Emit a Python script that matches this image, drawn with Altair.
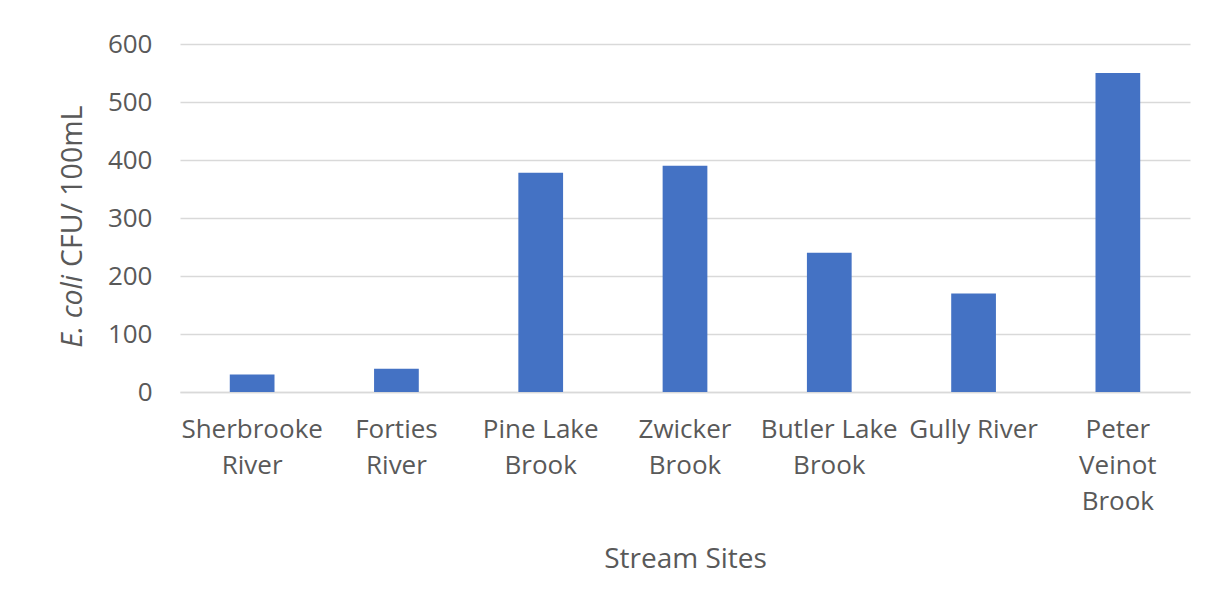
import altair as alt
import pandas as pd

categories = ["Sherbrooke River", "Forties River", "Pine Lake Brook", "Zwicker Brook",
              "Butler Lake Brook", "Gully River", "Peter Veinot Brook"]
values = [30, 40, 378, 390, 240, 170, 550]
label_lines = [["Sherbrooke", "River"], ["Forties", "River"], ["Pine Lake", "Brook"],
               ["Zwicker", "Brook"], ["Butler Lake", "Brook"], ["Gully River"],
               ["Peter", "Veinot", "Brook"]]
y_ticks = [0, 100, 200, 300, 400, 500, 600]

df = pd.DataFrame({"site": categories, "ecoli": values})

expr = "datum.value"
for cat, lines in reversed(list(zip(categories, label_lines))):
    arr = "[" + ",".join("'" + l + "'" for l in lines) + "]"
    expr = f"datum.value == '{cat}' ? {arr} : ({expr})"

FONT = "Open Sans"
GRAY = "#595959"

bars = alt.Chart(df).mark_bar(color="#4472C4").encode(
    x=alt.X("site:N", sort=None,
            scale=alt.Scale(paddingInner=0.69, paddingOuter=0.345),
            axis=alt.Axis(title="Stream Sites", labelAngle=0, labelExpr=expr,
                          labelFont=FONT, labelFontSize=26, labelColor=GRAY,
                          labelLineHeight=36, labelBaseline="top", labelPadding=24,
                          ticks=False, domainColor="#d9d9d9", domainWidth=1.5,
                          titleFont=FONT, titleFontSize=28, titleFontWeight="normal",
                          titleColor=GRAY, titleBaseline="alphabetic", titleY=175)),
    y=alt.Y("ecoli:Q", scale=alt.Scale(domain=[0, 600]),
            axis=alt.Axis(title=None, values=y_ticks, labelFont=FONT, labelFontSize=26,
                          labelColor=GRAY, labelPadding=28, ticks=False, domain=False,
                          gridColor="#d9d9d9", gridWidth=1.5)),
)

t1 = alt.Chart(pd.DataFrame({"t": ["E. coli"]})).mark_text(
    angle=270, align="right", baseline="middle", font=FONT, fontSize=28.5,
    fontStyle="italic", color=GRAY
).encode(text="t:N", x=alt.value(-107), y=alt.value(231))

t2 = alt.Chart(pd.DataFrame({"t": ["CFU/ 100mL"]})).mark_text(
    angle=270, align="left", baseline="middle", font=FONT, fontSize=28.5, color=GRAY
).encode(text="t:N", x=alt.value(-107), y=alt.value(223))

chart = alt.layer(bars, t1, t2).properties(
    width=1010, height=348, autosize="none",
    padding={"left": 172, "top": 36, "right": 28, "bottom": 200},
    background="white"
).configure_view(stroke=None)

chart.save("out.html", embed_options={"renderer": "svg", "actions": False})
